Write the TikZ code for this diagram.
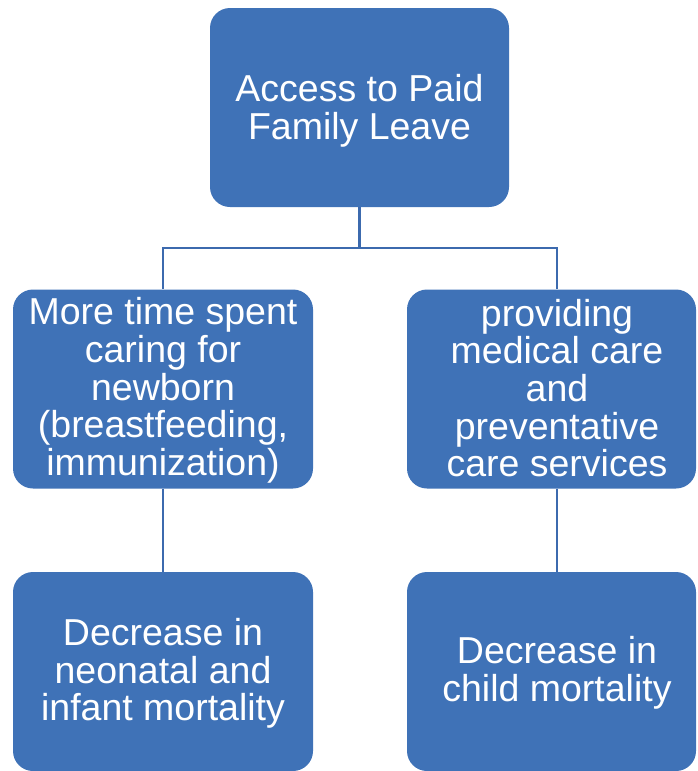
\documentclass[tikz,border=0pt]{standalone}
\usepackage{fontspec}
\setmainfont{Liberation Sans}
\definecolor{boxblue}{RGB}{63,114,183}
\definecolor{linkblue}{RGB}{60,106,174}
\begin{document}
\begin{tikzpicture}[x=1pt,y=-1pt,
  box/.style={fill=boxblue, draw=none, rounded corners=20pt, inner sep=0pt,
              minimum height=199pt},
  lbl/.style={text=white, align=center, inner sep=0pt,
              font=\fontsize{37.5}{37.7}\selectfont},
  link/.style={draw=linkblue, line width=2.8pt}]
\useasboundingbox (0,0) rectangle (697,771);

% boxes
\node[box, minimum width=299pt] (top)  at (359.5,107.5) {};
\node[box, minimum width=300pt] (mid1) at (163,389)     {};
\node[box, minimum width=289pt] (mid2) at (551.5,389)   {};
\node[box, minimum width=300pt] (bot1) at (163,671.5)   {};
\node[box, minimum width=289pt] (bot2) at (551.5,671.5) {};

% labels
\node[lbl] (topt)  at ([yshift=-3pt]top.center) {Access to Paid\\Family Leave};
\node[lbl] (mid1t) at ([yshift=-1.5pt]mid1.center)
  {More time spent\\caring for\\newborn\\(breastfeeding,\\immunization)};
\node[lbl] (mid2t) at ([xshift=5.5pt,yshift=1pt]mid2.center)
  {providing\\medical care\\and\\preventative\\care services};
\node[lbl] (bot1t) at ([yshift=-2pt]bot1.center) {Decrease in\\neonatal and\\infant mortality};
\node[lbl] (bot2t) at ([xshift=5.5pt,yshift=-1pt]bot2.center) {Decrease in\\child mortality};

% connectors
\coordinate (hub) at (359.5,248);
\coordinate (mid2in)  at ([xshift=5.5pt]mid2.north);
\coordinate (mid2out) at ([xshift=5.5pt]mid2.south);
\coordinate (bot2in)  at ([xshift=5.5pt]bot2.north);
\draw[link] (top.south) -- (hub);
\draw[link] (hub) -| (mid1.north);
\draw[link] (hub) -| (mid2in);
\draw[link] (mid1.south) -- (bot1.north);
\draw[link] (mid2out) -- (bot2in);
\end{tikzpicture}
\end{document}
